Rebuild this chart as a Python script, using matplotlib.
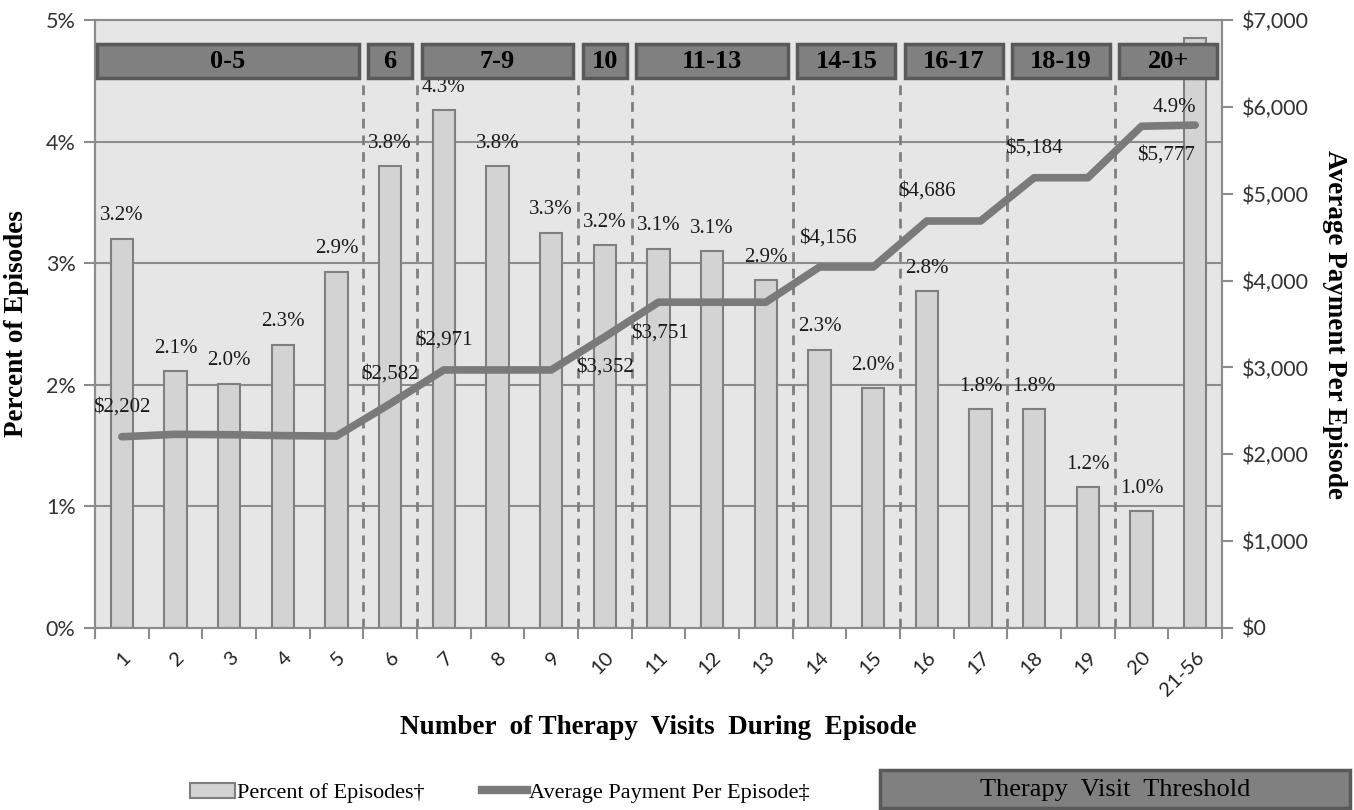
import matplotlib
matplotlib.use("Agg")
import matplotlib.pyplot as plt
from matplotlib.patches import Rectangle, Patch
from matplotlib.lines import Line2D

# Dati
visite = ["1", "2", "3", "4", "5", "6", "7", "8", "9", "10", "11", "12", "13",
          "14", "15", "16", "17", "18", "19", "20", "21-56"]
perc_episodi = [3.20, 2.11, 2.01, 2.33, 2.93, 3.80, 4.26, 3.80, 3.25, 3.15, 3.12,
                3.10, 2.86, 2.29, 1.97, 2.77, 1.80, 1.80, 1.16, 0.96, 4.85]
perc_etichette = ["3.2%", "2.1%", "2.0%", "2.3%", "2.9%", "3.8%", "4.3%", "3.8%", "3.3%",
                  "3.2%", "3.1%", "3.1%", "2.9%", "2.3%", "2.0%", "2.8%", "1.8%", "1.8%",
                  "1.2%", "1.0%", "4.9%"]
pagamento = [2202, 2230, 2225, 2215, 2210, 2582, 2971, 2971, 2971, 3352, 3751, 3751,
             3751, 4156, 4156, 4686, 4686, 5184, 5184, 5777, 5790]
gruppi = ["0-5", "6", "7-9", "10", "11-13", "14-15", "16-17", "18-19", "20+"]
confini_gruppi = [0, 5, 6, 9, 10, 13, 15, 17, 19, 21]   # indici di categoria

#####   Stile   ######
COL_SFONDO = "#e6e6e6"
COL_BARRE = "#d3d3d3"
COL_BORDO = "#7f7f7f"
COL_LINEA = "#7a7a7a"
COL_BOX = "#808080"
COL_BOX_BORDO = "#595959"
SERIF = "Liberation Serif"
SANS = "Lato"

fig = plt.figure(figsize=(13.54, 8.10), dpi=100)
ax = fig.add_axes([95 / 1354, 1 - 628 / 810, (1222 - 95) / 1354, (628 - 20) / 810])
ax.set_facecolor(COL_SFONDO)
x = list(range(len(visite)))

# griglia
for g in [1, 2, 3, 4]:
    ax.axhline(g, color="#8c8c8c", lw=1.5, zorder=1)

ax.bar(x, perc_episodi, width=0.41, color=COL_BARRE, edgecolor=COL_BORDO,
       linewidth=1.5, zorder=2)

ax.set_xlim(-0.5, len(visite) - 0.5)
ax.set_ylim(0, 5)

# linee tratteggiate ai confini dei gruppi
for c in confini_gruppi[1:-1]:
    ax.plot([c - 0.5, c - 0.5], [0, 4.52], color=COL_BORDO, lw=2,
            linestyle=(0, (3.5, 2.5)), zorder=3)

# etichette percentuali
offset_perc = {20: (-15, -50)}
for i, (v, lab) in enumerate(zip(perc_episodi, perc_etichette)):
    dx, dy = offset_perc.get(i, (0, 16.5))
    ax.annotate(lab, (i, v), xytext=(dx, dy), textcoords="offset points",
                ha="center", va="center", fontsize=15, family=SERIF,
                color="#1a1a1a", zorder=4)

# asse secondario: pagamento medio
ax2 = ax.twinx()
ax2.set_ylim(0, 7000)
ax2.plot(x, pagamento, color=COL_LINEA, lw=5.5, solid_capstyle="round",
         solid_joinstyle="round", zorder=5)
offset_pag = {9: (0, -22), 10: (1, -22), 13: (6, 21), 19: (18, -21)}
for c in confini_gruppi[:-1]:
    dx, dy = offset_pag.get(c, (0, 21.5))
    ax2.annotate(f"${pagamento[c]:,}", (c, pagamento[c]), xytext=(dx, dy),
                 textcoords="offset points", ha="center", va="center",
                 fontsize=15, family=SERIF, color="#1a1a1a", zorder=6)

# box soglie di visita
for k, lab in enumerate(gruppi):
    x0 = confini_gruppi[k] - 0.5 + (0.03 if k == 0 else 0.09)
    x1 = confini_gruppi[k + 1] - 0.5 - 0.09
    ax2.add_patch(Rectangle((x0, 4.52 * 1400), x1 - x0, 0.28 * 1400,
                            facecolor=COL_BOX, edgecolor=COL_BOX_BORDO, lw=2.5,
                            zorder=8))
    ax2.text((x0 + x1) / 2, 4.66 * 1400, lab, ha="center", va="center",
             fontsize=19, fontweight="bold", family=SERIF, color="black", zorder=9)

# assi e tick
for a in (ax, ax2):
    for s in a.spines.values():
        s.set_color("#8c8c8c")
        s.set_linewidth(1.5)

ax.set_xticks([k - 0.5 for k in range(len(visite) + 1)])
ax.set_xticklabels([])
ax.set_xticks(x, minor=True)
ax.set_xticklabels(visite, minor=True, rotation=45, ha="right", va="top",
                   rotation_mode="anchor", fontsize=14.5, family=SANS, color="#222222")
ax.tick_params(axis="x", which="major", length=8, width=1.5, color="#8c8c8c")
ax.tick_params(axis="x", which="minor", length=0, pad=15)

ax.set_yticks([0, 1, 2, 3, 4, 5])
ax.set_yticklabels([f"{v}%" for v in range(6)], fontsize=15.5, family=SANS, color="#333333")
ax.tick_params(axis="y", length=8, width=1.5, color="#8c8c8c", pad=6)

ax2.set_yticks(range(0, 7001, 1000))
ax2.set_yticklabels([f"${v:,}" for v in range(0, 7001, 1000)], fontsize=15.5,
                    family=SANS, color="#333333")
ax2.tick_params(axis="y", length=8, width=1.5, color="#8c8c8c", pad=6)

ax.set_ylabel("Percent of Episodes", fontsize=19.5, fontweight="bold", family=SERIF,
              labelpad=12)
ax2.set_ylabel("Average Payment Per Episode", fontsize=19.5, fontweight="bold",
               family=SERIF, rotation=270, labelpad=28)
fig.text(658 / 1354, 1 - 727 / 810, "Number  of Therapy  Visits  During  Episode",
         ha="center", va="center", fontsize=19.5, fontweight="bold", family=SERIF)

# legenda
maniglie = [Patch(facecolor=COL_BARRE, edgecolor=COL_BORDO, lw=1.5),
            Line2D([0], [0], color=COL_LINEA, lw=6)]
fig.legend(maniglie, ["Percent of Episodes†", "Average Payment Per Episode‡"],
           loc="center", bbox_to_anchor=(500 / 1354, 1 - 793 / 810), ncol=2,
           frameon=False, prop={"family": SERIF, "size": 16},
           handlelength=2.0, handleheight=0.7, handletextpad=0.1, columnspacing=2.6)
fig.patches.append(Rectangle((880 / 1354, 1 - 808 / 810), 470 / 1354, 38 / 810,
                             transform=fig.transFigure, facecolor=COL_BOX,
                             edgecolor=COL_BOX_BORDO, lw=2.5))
fig.text(1115 / 1354, 1 - 790 / 810, "Therapy  Visit  Threshold", ha="center",
         va="center", fontsize=19, family=SERIF, color="black")

fig.savefig("out.png", dpi=100)
